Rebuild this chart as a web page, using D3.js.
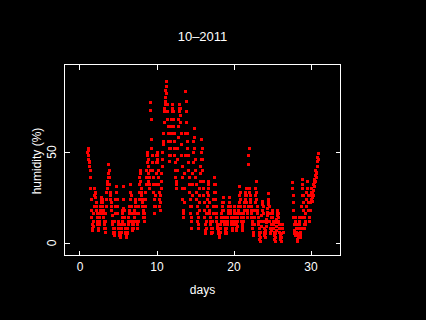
<!DOCTYPE html>
<html><head><meta charset="utf-8">
<script src="https://cdn.jsdelivr.net/npm/d3@7"></script>
<style>
html,body{margin:0;padding:0;background:#000;}
svg{display:block;}
text{font-family:"Liberation Sans",Arial,Helvetica,sans-serif;fill:#fff;}
</style></head>
<body>
<script>
const title = "10–2011";
const xLabel = "days";
const yLabel = "humidity (%)";
const xTicks = [0, 10, 20, 30];
const yTicks = [0, 50];
const startDay = 1;        // first reading, day of month
const readingsPerDay = 24; // hourly readings
// hourly relative humidity (%), one row per day (Oct 1 .. Oct 30)
const humidity = [
  50,52,51,48,46,45,44,42,40,36,30,24,18,14,10,8,7,9,12,16,20,26,30,28,
  27,25,22,20,18,16,14,12,10,8,7,8,10,12,14,16,18,20,22,24,25,24,22,20,
  18,16,14,12,10,8,6,8,12,16,20,24,28,30,32,34,36,38,43,40,36,32,28,26,
  24,22,20,18,15,12,10,8,6,5,4,6,8,12,16,20,24,28,31,28,24,20,16,12,
  10,8,6,5,4,3,4,5,6,8,10,12,14,16,18,19,31,24,18,14,10,8,6,5,
  4,3,4,5,6,8,10,12,14,16,18,20,24,28,32,26,20,16,12,10,8,7,8,10,
  12,14,16,18,20,22,24,20,16,12,10,8,10,12,16,20,24,28,32,36,40,38,34,30,
  28,26,24,22,20,18,16,14,12,14,16,20,24,28,32,36,40,44,48,50,46,42,38,34,
  30,32,36,40,77,73,68,57,52,48,44,40,36,32,28,24,20,16,20,26,32,38,44,48,
  50,48,46,44,40,36,32,28,24,20,18,22,26,30,34,38,42,46,50,54,56,60,66,72,
  74,76,78,80,84,86,89,82,76,72,68,64,60,56,52,48,45,48,52,56,60,64,68,72,
  74,76,72,68,64,60,56,52,48,44,40,36,32,30,34,40,46,52,58,64,68,72,74,76,
  74,70,66,60,54,48,42,36,30,24,18,14,16,22,30,38,48,60,83,78,72,66,60,56,
  52,48,44,40,36,32,28,24,20,16,12,8,14,20,26,32,38,44,50,56,63,58,52,46,
  40,36,32,28,24,20,16,12,8,10,14,18,22,26,30,34,38,42,46,50,57,52,46,40,
  34,30,26,22,18,14,10,7,5,8,12,16,20,24,28,32,34,30,26,22,18,16,14,12,
  10,8,6,5,6,8,12,16,20,24,28,32,36,32,28,24,20,16,14,12,10,9,8,7,
  6,5,4,3,4,6,8,10,12,14,16,18,20,22,25,22,18,14,12,10,8,7,6,5,
  5,6,8,10,12,14,16,18,20,22,25,22,20,18,16,14,12,10,8,7,8,10,12,14,
  16,18,20,18,16,14,12,10,8,7,9,12,14,16,18,20,22,26,31,28,24,20,16,14,
  12,10,8,7,9,12,14,16,18,20,22,24,26,28,30,26,22,18,16,14,20,43,48,52,
  30,28,26,24,22,20,18,16,14,12,10,8,6,4,6,10,14,18,22,26,30,34,28,24,
  20,18,16,14,12,10,8,6,4,2,1,3,6,9,12,15,18,21,23,20,16,12,8,6,
  4,3,5,7,9,11,13,15,17,19,21,23,27,24,20,16,12,8,6,5,7,10,14,18,
  16,14,12,10,8,6,4,2,1,3,5,7,9,11,13,15,17,18,16,14,12,10,8,6,
  4,3,2,1,3,5,8,10,8,6,null,null,null,null,null,null,null,null,null,null,null,null,null,null,
  null,null,null,null,null,null,null,null,null,null,null,null,null,null,33,30,26,22,18,14,10,7,5,4,
  14,12,10,8,6,4,2,1,3,5,8,12,14,10,6,4,3,8,14,20,26,32,35,30,
  26,22,18,14,10,8,10,12,16,20,24,28,30,34,30,26,22,18,14,12,14,18,22,26,
  24,26,28,30,27,25,23,26,29,32,35,33,31,34,37,40,38,36,39,42,45,47,49,46
];

(function () {
const W = 426, H = 320;
const pL = 64.5, pR = 340.5, pT = 64.5, pB = 255.5;

const svg = d3.select("body").append("svg").attr("width", W).attr("height", H)
  .style("background", "#000");

const x = d3.scaleLinear().domain([-1.948, 33.896]).range([pL, pR]);
const y = d3.scaleLinear().domain([-7.14, 97.8]).range([pB, pT]);

const pts = humidity.map((v, i) => ({day: startDay + i / readingsPerDay, v}))
  .filter(d => d.v !== null);

svg.append("g").selectAll("rect").data(pts).join("rect")
  .attr("x", d => Math.round(x(d.day)) - 1)
  .attr("y", d => Math.round(y(d.v)) - 1)
  .attr("width", 3).attr("height", 3)
  .attr("fill", "#ff0000")
  .attr("shape-rendering", "crispEdges");

svg.append("rect").attr("x", pL).attr("y", pT)
  .attr("width", pR - pL).attr("height", pB - pT)
  .attr("fill", "none").attr("stroke", "#fff").attr("stroke-width", 1)
  .attr("shape-rendering", "crispEdges");

function styleAxis(g) {
  g.select(".domain").remove();
  g.selectAll("line").attr("stroke", "#fff").attr("shape-rendering", "crispEdges");
  g.selectAll("text").attr("fill", "#fff").style("font-size", "12px")
    .style("font-family", '"Liberation Sans",Arial,sans-serif');
}

svg.append("g").attr("transform", `translate(0,${pB})`)
  .call(d3.axisBottom(x).tickValues(xTicks).tickFormat(d3.format("d")).tickSize(-5).tickPadding(7))
  .call(styleAxis);
svg.append("g").attr("transform", `translate(0,${pT})`)
  .call(d3.axisTop(x).tickValues(xTicks).tickFormat("").tickSize(-5))
  .call(styleAxis);
svg.append("g").attr("transform", `translate(${pL},0)`)
  .call(d3.axisLeft(y).tickValues(yTicks).tickFormat(d3.format("d")).tickSize(-5))
  .call(styleAxis)
  .call(g => g.selectAll("text")
    .attr("transform", "rotate(-90)")
    .attr("x", 0).attr("y", -8.5).attr("dy", 0)
    .attr("text-anchor", "middle"));
svg.append("g").attr("transform", `translate(${pR},0)`)
  .call(d3.axisRight(y).tickValues(yTicks).tickFormat("").tickSize(-5))
  .call(styleAxis);

svg.append("text").attr("x", 202.5).attr("y", 41)
  .attr("text-anchor", "middle").style("font-size", "13px").text(title);
svg.append("text").attr("x", 202.5).attr("y", 294)
  .attr("text-anchor", "middle").style("font-size", "12px").text(xLabel);
svg.append("text").attr("transform", "translate(40.5,161) rotate(-90)")
  .attr("text-anchor", "middle").style("font-size", "12px").text(yLabel);
})();
</script>
</body></html>
